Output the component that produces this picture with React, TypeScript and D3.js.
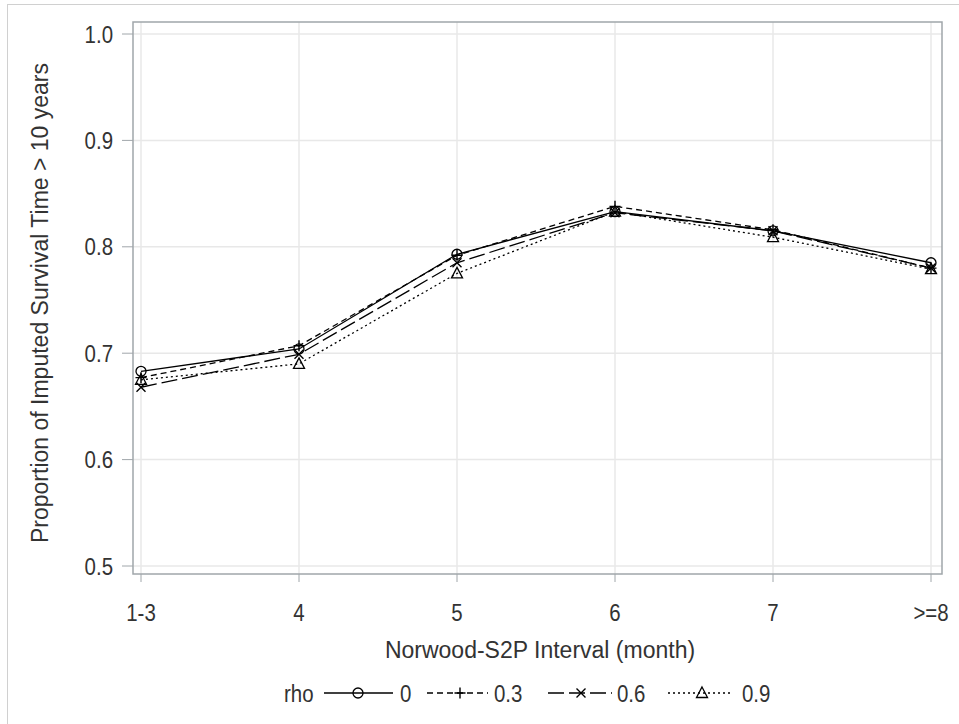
import React from "react";
import * as d3 from "d3";

const categories = ["1-3", "4", "5", "6", "7", ">=8"];
const yTicks = [0.5, 0.6, 0.7, 0.8, 0.9, 1.0];
const rhoLabels = ["0", "0.3", "0.6", "0.9"];
const rho0 = [0.683, 0.704, 0.793, 0.833, 0.815, 0.785];
const rho03 = [0.677, 0.707, 0.792, 0.838, 0.816, 0.780];
const rho06 = [0.668, 0.699, 0.785, 0.832, 0.815, 0.780];
const rho09 = [0.675, 0.690, 0.775, 0.833, 0.809, 0.779];
const seriesValues = [rho0, rho03, rho06, rho09];

const dashes = ["none", "6 4", "16 5", "2 3"];
const markers = ["circle", "plus", "x", "triangle"];

const W = 959, H = 724;
const frame = { l: 133, r: 942, t: 22, b: 574 };
const font = "'Liberation Sans', Arial, sans-serif";
const textColor = "#333";
const tickFont = 23.5;
const labelFont = 23;
const squeeze = 0.87;

function Marker({ type, x, y }: { type: string; x: number; y: number }) {
  const s = 5.5;
  if (type === "circle") return <circle cx={x} cy={y} r={5} fill="none" stroke="#000" strokeWidth={1.3} />;
  if (type === "plus")
    return <path d={`M${x - s},${y}H${x + s}M${x},${y - s}V${y + s}`} stroke="#000" strokeWidth={1.4} fill="none" />;
  if (type === "x")
    return <path d={`M${x - 4.5},${y - 4.5}L${x + 4.5},${y + 4.5}M${x - 4.5},${y + 4.5}L${x + 4.5},${y - 4.5}`} stroke="#000" strokeWidth={1.4} fill="none" />;
  return <path d={`M${x},${y - 6}L${x + 5.5},${y + 4.5}L${x - 5.5},${y + 4.5}Z`} stroke="#000" strokeWidth={1.3} fill="none" />;
}

function NText({ x, y, anchor, children }: { x: number; y: number; anchor?: string; children: React.ReactNode }) {
  return (
    <text
      transform={`translate(${x},${y}) scale(${squeeze},1)`}
      textAnchor={anchor || "start"}
      fontSize={tickFont}
      fill={textColor}
    >
      {children}
    </text>
  );
}

export default function App() {
  const x = d3.scalePoint<string>().domain(categories).range([141, 931]);
  const y = d3.scaleLinear().domain([0.5, 1.0]).range([566, 34]);
  const line = d3
    .line<number>()
    .x((_, i) => x(categories[i])!)
    .y((d) => y(d));

  const legendY = 693;
  const legendItems = [
    { x0: 324, x1: 393, m: 358, tx: 400 },
    { x0: 427, x1: 488, m: 460, tx: 494 },
    { x0: 548, x1: 612, m: 581, tx: 617 },
    { x0: 668, x1: 733, m: 702, tx: 742 },
  ];

  return (
    <svg width={W} height={H} style={{ position: "absolute", left: 0, top: 0 }} fontFamily={font}>
      <rect x={0} y={0} width={W} height={H} fill="#fff" />
      <rect x={7.5} y={4.5} width={W + 10} height={H + 10} fill="none" stroke="#d0d0d0" strokeWidth={1} />
      {yTicks.map((t) => (
        <line key={"gy" + t} x1={frame.l} x2={frame.r} y1={y(t)} y2={y(t)} stroke="#e8e8e8" strokeWidth={1.5} />
      ))}
      {categories.map((c) => (
        <line key={"gx" + c} x1={x(c)} x2={x(c)} y1={frame.t} y2={frame.b} stroke="#e8e8e8" strokeWidth={1.5} />
      ))}
      <rect x={frame.l} y={frame.t} width={frame.r - frame.l} height={frame.b - frame.t} fill="none" stroke="#a0a6aa" strokeWidth={1.5} />
      {yTicks.map((t) => (
        <g key={"ty" + t}>
          <line x1={frame.l - 11} x2={frame.l} y1={y(t)} y2={y(t)} stroke="#a0a6aa" strokeWidth={1} />
          <NText x={113} y={y(t) + 8.5} anchor="end">
            {t.toFixed(1)}
          </NText>
        </g>
      ))}
      {categories.map((c) => (
        <g key={"tx" + c}>
          <line x1={x(c)} x2={x(c)} y1={frame.b} y2={frame.b + 8} stroke="#a0a6aa" strokeWidth={1} />
          <NText x={x(c)!} y={621} anchor="middle">
            {c}
          </NText>
        </g>
      ))}
      <text x={540} y={658} textAnchor="middle" fontSize={labelFont} fill={textColor}>
        Norwood-S2P Interval (month)
      </text>
      <text
        transform={`translate(48,303) rotate(-90)`}
        textAnchor="middle"
        fontSize={labelFont}
        fill={textColor}
      >
        Proportion of Imputed Survival Time &gt; 10 years
      </text>
      {seriesValues.map((vals, si) => (
        <g key={"s" + si}>
          <path d={line(vals)!} fill="none" stroke="#000" strokeWidth={1.3} strokeDasharray={dashes[si]} />
          {vals.map((v, i) => (
            <Marker key={i} type={markers[si]} x={x(categories[i])!} y={y(v)} />
          ))}
        </g>
      ))}
      <NText x={284} y={legendY + 8.5}>rho</NText>
      {legendItems.map((it, i) => (
        <g key={"l" + i}>
          <line x1={it.x0} x2={it.x1} y1={legendY} y2={legendY} stroke="#000" strokeWidth={1.3} strokeDasharray={dashes[i]} />
          <Marker type={markers[i]} x={it.m} y={legendY} />
          <NText x={it.tx} y={legendY + 8.5}>{rhoLabels[i]}</NText>
        </g>
      ))}
    </svg>
  );
}
